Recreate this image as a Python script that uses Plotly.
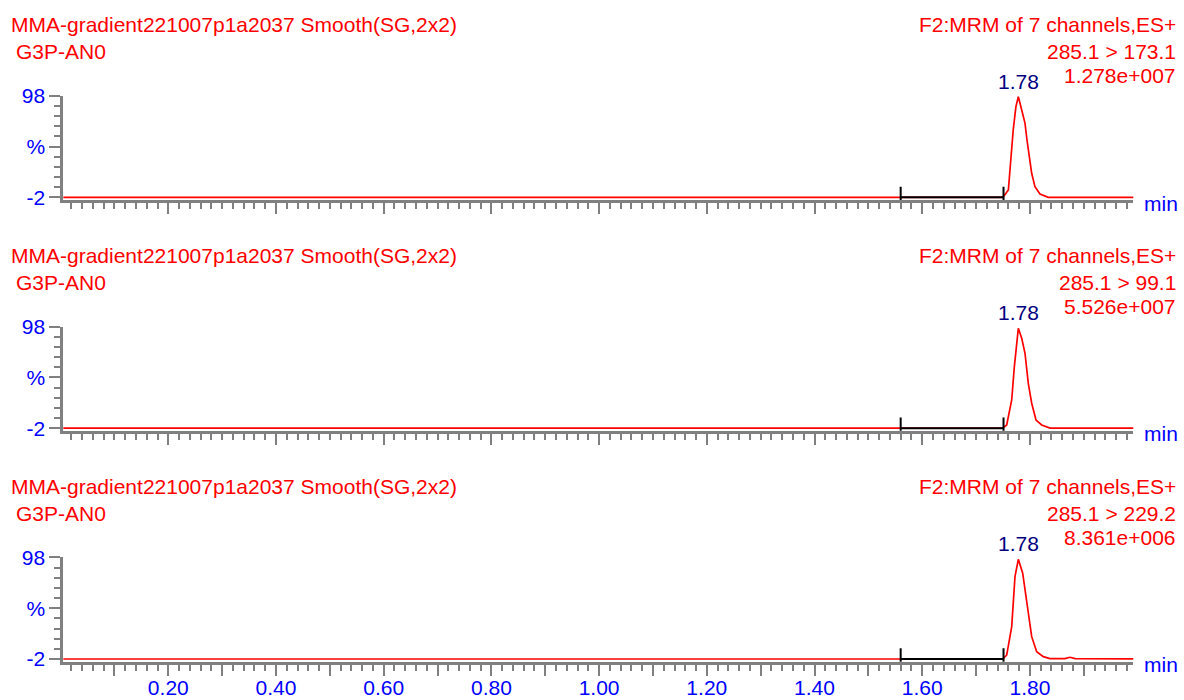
import plotly.graph_objects as go

# ---------------- data ----------------
sample_name = "MMA-gradient221007p1a2037 Smooth(SG,2x2)"
compound = "G3P-AN0"
function_name = "F2:MRM of 7 channels,ES+"

transitions = ["285.1 > 173.1", "285.1 > 99.1", "285.1 > 229.2"]
intensities = ["1.278e+007", "5.526e+007", "8.361e+006"]
peak_labels = ["1.78", "1.78", "1.78"]
peak_rts = [1.778, 1.778, 1.778]

# integration bracket (start / end retention time, min)
integration_start = [1.560, 1.560, 1.560]
integration_end = [1.751, 1.751, 1.751]

# chromatogram traces (time in min, relative intensity %)
rt_1 = [0.00, 1.750, 1.760, 1.7644, 1.769, 1.774, 1.7785, 1.7848, 1.7909, 1.7946,
        1.7983, 1.8033, 1.8094, 1.8187, 1.834, 2.00]
int_1 = [-2, -2, 5.2, 34.7, 64.2, 87.2, 97.0, 83.9, 70.8, 54.4,
         38.0, 21.6, 8.4, 1.2, -2, -2]

rt_2 = [0.00, 1.7495, 1.7569, 1.7662, 1.7711, 1.7755, 1.7785, 1.7848, 1.7909, 1.797,
        1.8033, 1.8113, 1.8219, 1.8373, 2.00]
int_2 = [-2, -2, 1.1, 25.7, 58.5, 84.8, 96.3, 86.4, 71.7, 42.1,
         22.5, 6.0, 1.1, -2, -2]

rt_3 = [0.00, 1.7495, 1.7569, 1.7662, 1.7723, 1.7785, 1.7866, 1.7941, 1.8033, 1.8126,
        1.8249, 1.8373, 1.865, 1.8744, 1.884, 2.00]
int_3 = [-2, -2, 1.9, 29.8, 79.0, 96.1, 82.4, 52.9, 20.0, 5.2,
         0.3, -1.6, -1.7, -0.3, -1.7, -1.8]

rts = [rt_1, rt_2, rt_3]
ints = [int_1, int_2, int_3]

x_tickvals = [0.1, 0.2, 0.3, 0.4, 0.5, 0.6, 0.7, 0.8, 0.9, 1.0,
              1.1, 1.2, 1.3, 1.4, 1.5, 1.6, 1.7, 1.8, 1.9]
x_ticktext = ["", "0.20", "", "0.40", "", "0.60", "", "0.80", "", "1.00",
              "", "1.20", "", "1.40", "", "1.60", "", "1.80", ""]
y_tickvals = [-2, 48, 98]
y_ticktext = ["-2", "%", "98"]

# ---------------- layout geometry (pixels) ----------------
W, H = 1184, 700
PLOT_L, PLOT_R = 63.3, 1133.3
PANEL_TOP = 95.7
PANEL_H = 104.3
PANEL_STEP = 230.85

FONT = "Liberation Sans, Arial, sans-serif"
RED = "#FF0000"
BLUE = "#0000FF"
NAVY = "#000080"
GRAY = "#808080"
FS = 21


def px(x):
    return x / W


def py(y):
    return 1 - y / H


fig = go.Figure()
layout = dict(
    width=W, height=H,
    margin=dict(l=0, r=0, t=0, b=0),
    paper_bgcolor="white", plot_bgcolor="white",
    showlegend=False,
    font=dict(family=FONT, size=FS),
)
annotations = []

for k in range(3):
    sfx = "" if k == 0 else str(k + 1)
    xname, yname = "x" + sfx, "y" + sfx
    off = k * PANEL_STEP
    top = PANEL_TOP + off
    bot = top + PANEL_H

    fig.add_trace(go.Scatter(
        x=rts[k], y=ints[k], mode="lines",
        line=dict(color=RED, width=1.7),
        xaxis=xname, yaxis=yname, hoverinfo="skip"))

    s, e = integration_start[k], integration_end[k]
    fig.add_trace(go.Scatter(
        x=[s, s, None, s, e, None, e, e],
        y=[8.5, -5.5, None, -2, -2, None, 8.5, -5.5],
        mode="lines", line=dict(color="black", width=2),
        xaxis=xname, yaxis=yname, hoverinfo="skip"))

    layout["xaxis" + sfx] = dict(
        domain=[px(PLOT_L), px(PLOT_R)], range=[0.005, 1.992],
        anchor=yname, showline=True, linecolor=GRAY, linewidth=3,
        showgrid=False, zeroline=False, automargin=False,
        tickmode="array", tickvals=x_tickvals, ticktext=x_ticktext,
        ticks="outside", ticklen=11, tickwidth=2, tickcolor=GRAY,
        minor=dict(tickmode="linear", tick0=0, dtick=0.02, ticks="outside",
                   ticklen=6, tickwidth=2, tickcolor=GRAY, showgrid=False),
        showticklabels=(k == 2), ticklabelstandoff=-6,
        tickfont=dict(family=FONT, size=FS, color=BLUE),
        fixedrange=True,
    )
    layout["yaxis" + sfx] = dict(
        domain=[py(bot), py(top)], range=[-4.66, 98],
        anchor=xname, showline=True, linecolor=GRAY, linewidth=3,
        showgrid=False, zeroline=False, automargin=False,
        tickmode="array", tickvals=y_tickvals, ticktext=y_ticktext,
        ticks="outside", ticklen=11, tickwidth=2, tickcolor=GRAY,
        minor=dict(tickmode="linear", tick0=-2, dtick=10, ticks="outside",
                   ticklen=6, tickwidth=2, tickcolor=GRAY, showgrid=False),
        tickfont=dict(family=FONT, size=FS, color=BLUE),
        fixedrange=True,
    )

    def ann(text, x, y, xanchor, color, xref="paper"):
        annotations.append(dict(
            text=text, x=x, y=py(y), xref=xref, yref="paper",
            xanchor=xanchor, yanchor="middle", showarrow=False,
            font=dict(family=FONT, size=FS, color=color)))

    ann(sample_name, px(9), 24.5 + off, "left", RED)
    ann(compound, px(14), 51.5 + off, "left", RED)
    ann(function_name, px(1178), 24.5 + off, "right", RED)
    ann(transitions[k], px(1178), 51.5 + off, "right", RED)
    ann(intensities[k], px(1178), 76 + off, "right", RED)
    ann(peak_labels[k], peak_rts[k], 81.5 + off, "center", NAVY, xref=xname)
    ann("min", px(1142), 203 + off, "left", BLUE)

layout["annotations"] = annotations
fig.update_layout(**layout)
fig.write_html("out.html")
